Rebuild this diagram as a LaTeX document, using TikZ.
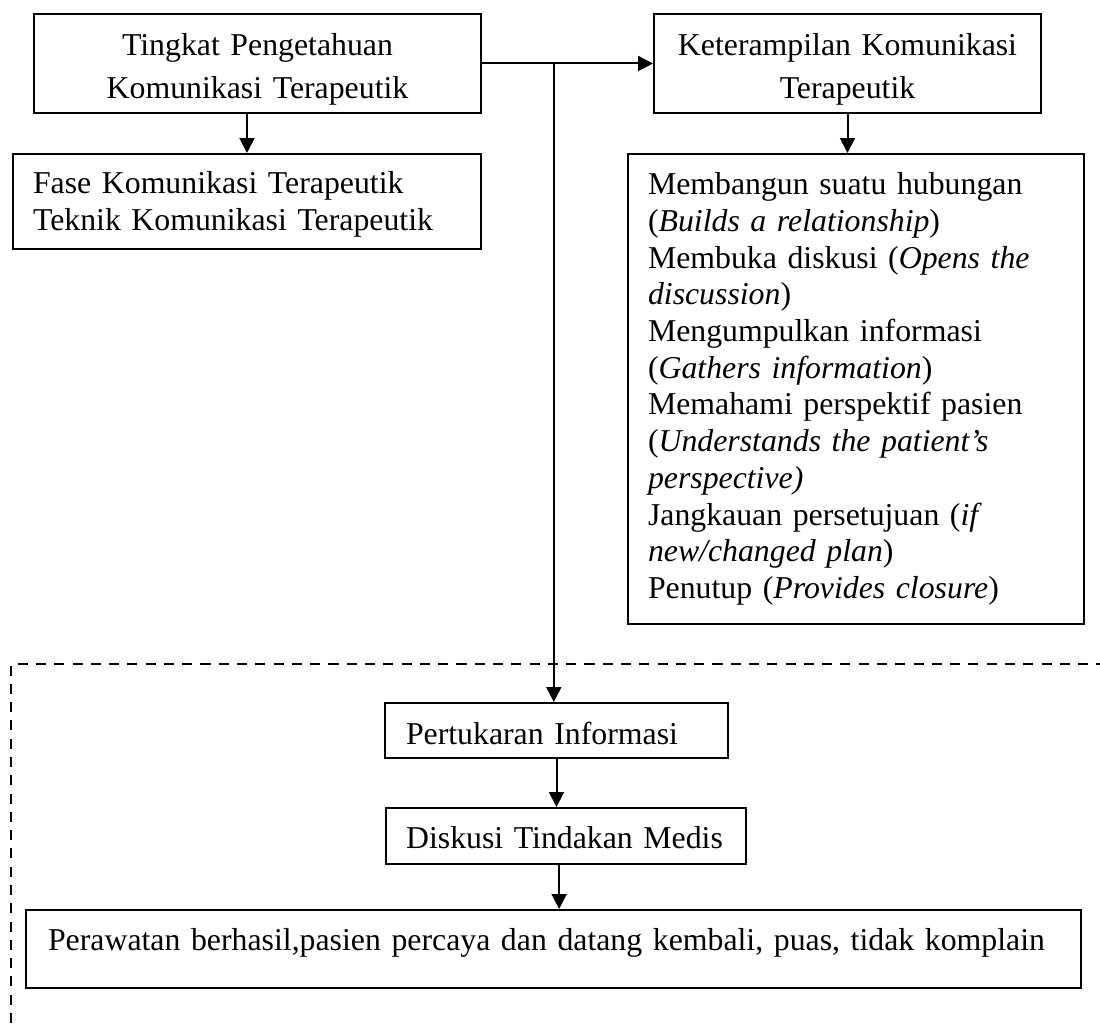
\documentclass[tikz,border=0pt]{standalone}
\usepackage{fontspec}
\setmainfont{Liberation Serif}
\usetikzlibrary{arrows.meta,calc}
\tikzset{
  every picture/.style={line join=miter, >={Triangle[length=5.6pt,width=5.6pt]}},
  box/.style={draw, line width=0.75pt, anchor=north west, inner ysep=0pt, inner xsep=7.55pt, align=left, font=\fontsize{12}{13.85}\selectfont},
  headbox/.style={box, inner xsep=1.5pt, align=center, font=\fontsize{12}{15.9}\selectfont},
  twoline/.style={text height=8pt, text depth=13.66pt},
  flow/.style={->, line width=0.75pt},
  frame/.style={line width=0.9pt, dash pattern=on 3.8pt off 3.1pt},
}

\begin{document}
\begin{tikzpicture}[x=0.3774pt,y=-0.3774pt]
\useasboundingbox (0,0) rectangle (1100,1023);
\node[headbox, twoline, minimum width=168.70pt, minimum height=37.36pt, text width=165.7pt] (tingkat) at (33,13)
  {Tingkat Pengetahuan\\Komunikasi Terapeutik};
\node[headbox, twoline, minimum width=146.05pt, minimum height=37.36pt, text width=143.0pt] (terampil) at (653,13)
  {Keterampilan Komunikasi\\Terapeutik};
\node[box, twoline, minimum width=176.62pt, minimum height=35.85pt, text width=161.5pt] (fase) at (12,153)
  {Fase Komunikasi Terapeutik\\Teknik Komunikasi Terapeutik};
\node[box, minimum width=172.09pt, minimum height=177.38pt, text width=157.0pt] (skill) at (627,153)
  {Membangun suatu hubungan\\
   (\textit{Builds a relationship})\\
   Membuka diskusi (\textit{Opens the}\\
   \textit{discussion})\\
   Mengumpulkan informasi\\
   (\textit{Gathers information})\\
   Memahami perspektif pasien\\
   (\textit{Understands the patient’s}\\
   \textit{perspective)}\\
   Jangkauan persetujuan (\textit{if}\\
   \textit{new/changed plan})\\
   Penutup (\textit{Provides closure})};
\node[box, text height=10.2pt, text depth=0pt, minimum width=129.45pt, minimum height=20.76pt, inner xsep=7.9pt, text width=113.6pt] (tukar) at (384,702)
  {Pertukaran Informasi};
\node[box, text height=9.06pt, text depth=0pt, minimum width=135.86pt, minimum height=21.13pt, inner xsep=7.55pt, text width=120.7pt] (diskusi) at (385,807)
  {Diskusi Tindakan Medis};
\node[box, text height=5pt, text depth=3.5pt, minimum width=398.16pt, minimum height=29.44pt, inner xsep=8.3pt, text width=381.5pt] (hasil) at (25,909)
  {Perawatan berhasil,pasien percaya dan datang kembali, puas, tidak komplain};
\coordinate (cabang) at ($(tingkat.east)!0.42!(terampil.west)$);
\draw[flow] (tingkat.east) -- (terampil.west);
\draw[flow] (cabang) -- (cabang |- tukar.north);
\draw[flow] (fase.north |- tingkat.south) -- (fase.north);
\draw[flow] (terampil.south) -- (terampil.south |- skill.north);
\draw[flow] (tukar.south) -- (tukar.south |- diskusi.north);
\draw[flow] ([xshift=-2.6pt]diskusi.south) -- ([xshift=-2.6pt]diskusi.south |- hasil.north);
\draw[frame] (11,1023) -- (11,664) -- (1100,664);
\end{tikzpicture}
\end{document}
